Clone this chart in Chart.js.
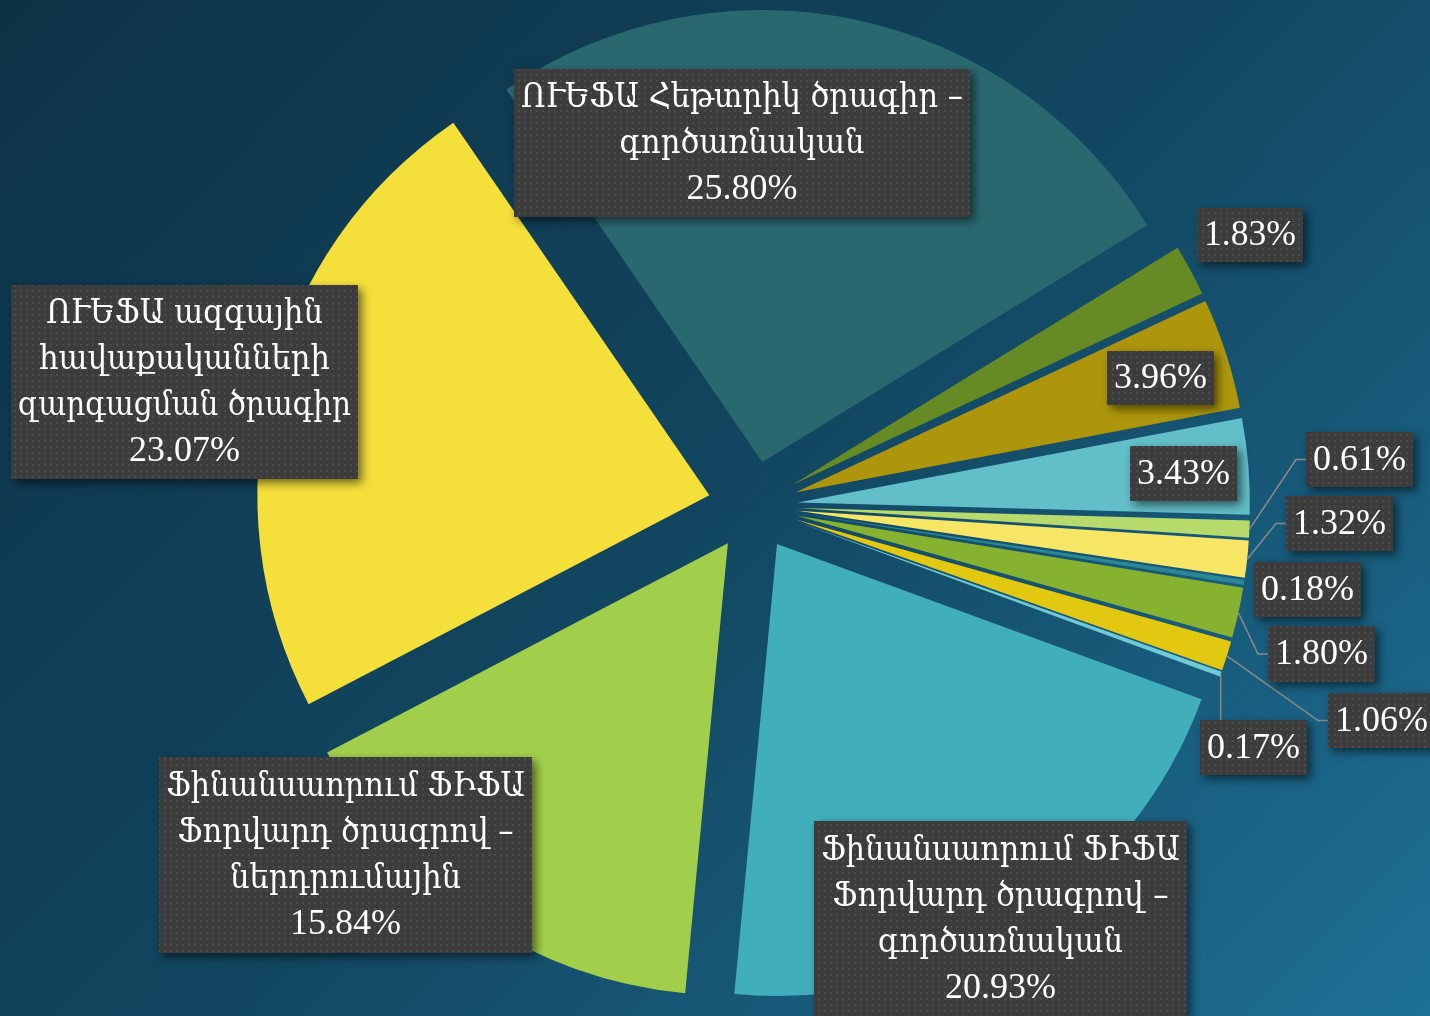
<!DOCTYPE html>
<html>
<head>
<meta charset="utf-8">
<script src="https://cdn.jsdelivr.net/npm/chart.js@4"></script>
<style>
  html, body { margin: 0; padding: 0; }
  body {
    width: 1430px; height: 1016px; overflow: hidden;
    background: linear-gradient(135deg, #0d3246 0%, #124660 50%, #1e7096 100%);
  }
  #wrap { position: relative; width: 1430px; height: 1016px; }
</style>
</head>
<body>
<div id="wrap"><canvas id="pie"></canvas></div>
<script>
// slice names (line breaks as in the picture); the small slices carry no name
const categories = [
  "ՈՒԵՖԱ Հեթտրիկ ծրագիր –\nգործառնական",
  "", "", "", "", "", "", "", "", "",
  "Ֆինանսաորում ՖԻՖԱ\nՖորվարդ ծրագրով –\nգործառնական",
  "Ֆինանսաորում ՖԻՖԱ\nՖորվարդ ծրագրով –\nներդրումային",
  "ՈՒԵՖԱ ազգային\nհավաքականների\nզարգացման ծրագիր"
];
const shares = [25.80, 1.83, 3.96, 3.43, 0.61, 1.32, 0.18, 1.80, 1.06, 0.17, 20.93, 15.84, 23.07];

const sliceColors = ["#2a6870", "#678b24", "#ad960b", "#62bec8", "#b6da6c", "#f7e565",
  "#2a8896", "#87b22f", "#e3c811", "#70cad6", "#41aebc", "#a2cf4b", "#f4df3b"];

// label box layout: left, top, width, height, leader style
const labelBoxes = [
  [514, 69, 456, 148, null],
  [1197, 208, 106, 54, null],
  [1107, 351, 107, 54, null],
  [1130, 446, 107, 55, null],
  [1306, 432, 107, 55, "side"],
  [1286, 496, 107, 55, "side"],
  [1254, 562, 107, 55, null],
  [1268, 626, 107, 56, "side"],
  [1328, 693, 107, 55, "side"],
  [1200, 720, 107, 55, "top"],
  [814, 821, 373, 196, null],
  [159, 757, 373, 196, null],
  [11, 285, 347, 194, null]
];

const RADIUS = 452;
const EXPLODE = 45;   // px each slice is pushed out from the centre

// explode the slices: move each arc's centre out along its mid angle
const explode = {
  id: "explode",
  afterDatasetsUpdate(chart) {
    chart.getDatasetMeta(0).data.forEach(arc => {
      const mid = (arc.startAngle + arc.endAngle) / 2;
      arc.x += EXPLODE * Math.cos(mid);
      arc.y += EXPLODE * Math.sin(mid);
    });
  }
};

function boxPattern(ctx) {
  const c = document.createElement("canvas");
  c.width = 6; c.height = 6;
  const g = c.getContext("2d");
  g.fillStyle = "#3c3c3c";
  g.fillRect(0, 0, 6, 6);
  g.fillStyle = "#4c4c4c";
  g.fillRect(2, 2, 2, 2);
  return ctx.createPattern(c, "repeat");
}

const ARM = /[\u0530-\u058F]/;

const boxLabels = {
  id: "boxLabels",
  afterDatasetsDraw(chart) {
    const ctx = chart.ctx;
    const arcs = chart.getDatasetMeta(0).data;
    const fill = boxPattern(ctx);

    // leader lines
    ctx.save();
    ctx.strokeStyle = "#8a8a8a";
    ctx.lineWidth = 1.5;
    arcs.forEach((arc, i) => {
      const [bx, by, bw, bh, kind] = labelBoxes[i];
      if (!kind) return;
      const mid = (arc.startAngle + arc.endAngle) / 2;
      const sx = arc.x + RADIUS * Math.cos(mid);
      const sy = arc.y + RADIUS * Math.sin(mid);
      ctx.beginPath();
      ctx.moveTo(sx, sy);
      if (kind === "side") {
        const cy = by + bh / 2;
        ctx.lineTo(bx - 10, cy);
        ctx.lineTo(bx, cy);
      } else {
        ctx.lineTo(sx, by);
      }
      ctx.stroke();
    });
    ctx.restore();

    arcs.forEach((arc, i) => {
      const [bx, by, bw, bh] = labelBoxes[i];
      ctx.save();
      ctx.shadowColor = "rgba(0,0,0,0.55)";
      ctx.shadowBlur = 10;
      ctx.shadowOffsetX = 4;
      ctx.shadowOffsetY = 4;
      ctx.fillStyle = fill;
      ctx.fillRect(bx, by, bw, bh);
      ctx.restore();

      const lines = categories[i] ? categories[i].split("\n") : [];
      lines.push(shares[i].toFixed(2) + "%");
      const step = 46;
      const cx = bx + bw / 2;
      const top = by + bh / 2 - (lines.length - 1) * step / 2;
      ctx.save();
      ctx.fillStyle = "#ffffff";
      ctx.textAlign = "center";
      ctx.textBaseline = "middle";
      lines.forEach((t, k) => {
        if (ARM.test(t)) {
          ctx.font = '34px "DejaVu Serif Condensed", "DejaVu Serif", serif';
          if ("fontStretch" in ctx) ctx.fontStretch = "condensed";
        } else {
          ctx.font = '36px "Liberation Serif", "DejaVu Serif", serif';
          if ("fontStretch" in ctx) ctx.fontStretch = "normal";
        }
        const w = ctx.measureText(t).width;
        const maxW = bw - 14;
        const y = top + k * step + 1;
        if (w > maxW) {
          ctx.save();
          ctx.translate(cx, y);
          ctx.scale(maxW / w, 1);
          ctx.fillText(t, 0, 0);
          ctx.restore();
        } else {
          ctx.fillText(t, cx, y);
        }
      });
      ctx.restore();
    });
  }
};

new Chart(document.getElementById("pie"), {
  type: "pie",
  data: {
    labels: categories,
    datasets: [{
      data: shares,
      backgroundColor: sliceColors,
      borderWidth: 0
    }]
  },
  options: {
    responsive: true,
    maintainAspectRatio: false,
    animation: false,
    events: [],
    rotation: -34.5,
    radius: RADIUS,
    layout: { padding: { left: 76, bottom: 4 } },
    plugins: { legend: { display: false }, tooltip: { enabled: false } }
  },
  plugins: [explode, boxLabels]
});
</script>
</body>
</html>
